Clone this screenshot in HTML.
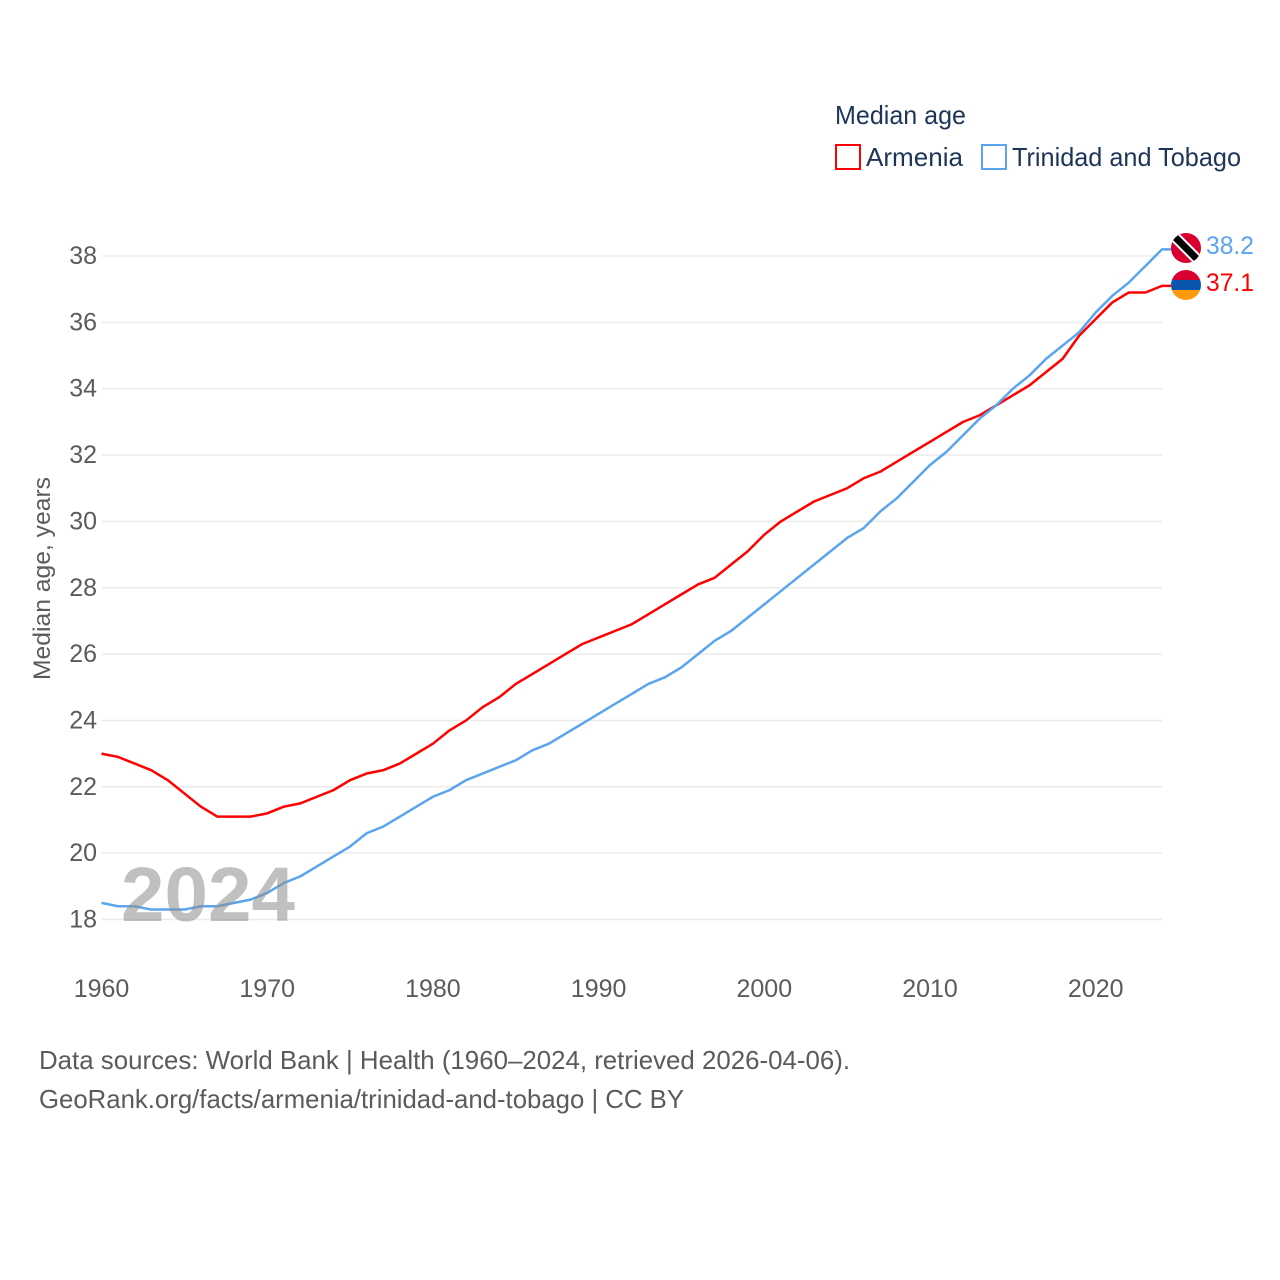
<!DOCTYPE html>
<html lang="en">
<head>
<meta charset="utf-8">
<title>Median age: Armenia and Trinidad and Tobago</title>
<style>
html,body{margin:0;padding:0;background:#fff;width:1280px;height:1280px;overflow:hidden}
svg{display:block;font-family:"Liberation Sans",sans-serif}
</style>
</head>
<body>
<svg id="chart" width="1280" height="1280" viewBox="0 0 1280 1280" xmlns="http://www.w3.org/2000/svg">
  <defs>
    <clipPath id="clip-tt"><circle cx="1186" cy="248" r="15"/></clipPath>
    <clipPath id="clip-am"><circle cx="1186" cy="285" r="15"/></clipPath>
  </defs>
  <rect x="0" y="0" width="1280" height="1280" fill="#fff"/>
  <g id="grid"></g>
  <g id="yticks"></g>
  <g id="xticks"></g>
  <text transform="translate(50,680) rotate(-90)" font-size="24" fill="#5b5b5b" textLength="203" lengthAdjust="spacingAndGlyphs">Median age, years</text>
  <g id="series"></g>
  <text x="121" y="921" font-size="77" font-weight="700" fill="#8f8f8f" fill-opacity="0.56" textLength="174" lengthAdjust="spacingAndGlyphs">2024</text>

  <text x="835" y="124" font-size="26" fill="#1d3557" textLength="131" lengthAdjust="spacingAndGlyphs">Median age</text>
  <g>
    <rect x="836" y="145" width="24" height="24" fill="#fff" stroke="#ff0000" stroke-width="2"/>
    <text x="866" y="166" font-size="26" fill="#1d3557" textLength="97" lengthAdjust="spacingAndGlyphs">Armenia</text>
  </g>
  <g>
    <rect x="982" y="145" width="24" height="24" fill="#fff" stroke="#5ba4ee" stroke-width="2"/>
    <text x="1012" y="166" font-size="26" fill="#1d3557" textLength="229" lengthAdjust="spacingAndGlyphs">Trinidad and Tobago</text>
  </g>

  <g clip-path="url(#clip-tt)">
    <rect x="1171" y="233" width="30" height="30" fill="#d9002f"/>
    <line x1="1171" y1="233" x2="1201" y2="263" stroke="#fff" stroke-width="11"/>
    <line x1="1171" y1="233" x2="1201" y2="263" stroke="#000" stroke-width="7"/>
  </g>
  <g clip-path="url(#clip-am)">
    <rect x="1171" y="270" width="30" height="10" fill="#d9002f"/>
    <rect x="1171" y="280" width="30" height="10" fill="#0a55b0"/>
    <rect x="1171" y="290" width="30" height="10" fill="#ff9a0e"/>
  </g>
  <text x="1206" y="254" font-size="25" fill="#5ba4ee" textLength="48" lengthAdjust="spacingAndGlyphs">38.2</text>
  <text x="1206" y="291" font-size="25" fill="#ff0000" textLength="48" lengthAdjust="spacingAndGlyphs">37.1</text>

  <text x="39" y="1069" font-size="26" fill="#5b5b5b" textLength="811" lengthAdjust="spacingAndGlyphs">Data sources: World Bank | Health (1960–2024, retrieved 2026-04-06).</text>
  <text x="39" y="1108" font-size="26" fill="#5b5b5b" textLength="645" lengthAdjust="spacingAndGlyphs">GeoRank.org/facts/armenia/trinidad-and-tobago | CC BY</text>
</svg>
<script>
var firstYear = 1960;
var yTicks = [18, 20, 22, 24, 26, 28, 30, 32, 34, 36, 38];
var xTicks = [1960, 1970, 1980, 1990, 2000, 2010, 2020];
var armenia = [23.0, 22.9, 22.7, 22.5, 22.2, 21.8, 21.4, 21.1, 21.1, 21.1, 21.2, 21.4, 21.5, 21.7, 21.9, 22.2, 22.4, 22.5, 22.7, 23.0, 23.3, 23.7, 24.0, 24.4, 24.7, 25.1, 25.4, 25.7, 26.0, 26.3, 26.5, 26.7, 26.9, 27.2, 27.5, 27.8, 28.1, 28.3, 28.7, 29.1, 29.6, 30.0, 30.3, 30.6, 30.8, 31.0, 31.3, 31.5, 31.8, 32.1, 32.4, 32.7, 33.0, 33.2, 33.5, 33.8, 34.1, 34.5, 34.9, 35.6, 36.1, 36.6, 36.9, 36.9, 37.1];
var trinidadTobago = [18.5, 18.4, 18.4, 18.3, 18.3, 18.3, 18.4, 18.4, 18.5, 18.6, 18.8, 19.1, 19.3, 19.6, 19.9, 20.2, 20.6, 20.8, 21.1, 21.4, 21.7, 21.9, 22.2, 22.4, 22.6, 22.8, 23.1, 23.3, 23.6, 23.9, 24.2, 24.5, 24.8, 25.1, 25.3, 25.6, 26.0, 26.4, 26.7, 27.1, 27.5, 27.9, 28.3, 28.7, 29.1, 29.5, 29.8, 30.3, 30.7, 31.2, 31.7, 32.1, 32.6, 33.1, 33.5, 34.0, 34.4, 34.9, 35.3, 35.7, 36.3, 36.8, 37.2, 37.7, 38.2];

var NS = 'http://www.w3.org/2000/svg';
function xScale(year) { return 101.5 + (year - 1960) * (1162 - 101.5) / 64; }
function yScale(v) { return 919.5 - (v - 18) * (919.5 - 256) / 20; }
function make(tag, parent) {
  var el = document.createElementNS(NS, tag);
  parent.appendChild(el);
  return el;
}
var gridG = document.getElementById('grid');
var yG = document.getElementById('yticks');
var xG = document.getElementById('xticks');
var seriesG = document.getElementById('series');

yTicks.forEach(function (t) {
  var line = make('line', gridG);
  
  
  line.setAttribute('x1', 102);
  line.setAttribute('x2', 1162);
  line.setAttribute('y1', yScale(t));
  line.setAttribute('y2', yScale(t));
  line.setAttribute('stroke', '#ebebeb');
  line.setAttribute('stroke-width', '1.5');
  var label = make('text', yG);
  
  
  label.setAttribute('x', 97);
  label.setAttribute('y', yScale(t) + 8);
  label.setAttribute('text-anchor', 'end');
  label.setAttribute('font-size', '25');
  label.setAttribute('fill', '#5b5b5b');
  label.textContent = t;
});

xTicks.forEach(function (t) {
  var label = make('text', xG);
  
  
  label.setAttribute('x', xScale(t));
  label.setAttribute('y', 997);
  label.setAttribute('text-anchor', 'middle');
  label.setAttribute('font-size', '25');
  label.setAttribute('fill', '#5b5b5b');
  label.textContent = t;
});

function drawSeries(values, color, name) {
  var pts = values.map(function (v, i) {
    return xScale(firstYear + i).toFixed(2) + ',' + yScale(v).toFixed(2);
  });
  var last = values[values.length - 1];
  pts.push('1171,' + yScale(last).toFixed(2));
  var line = make('polyline', seriesG);
  
  
  line.setAttribute('points', pts.join(' '));
  line.setAttribute('fill', 'none');
  line.setAttribute('stroke', color);
  line.setAttribute('stroke-width', '2.5');
  line.setAttribute('stroke-linejoin', 'round');
}
drawSeries(armenia, '#ff0000', 'line-armenia');
drawSeries(trinidadTobago, '#5ba4ee', 'line-trinidad-and-tobago');
</script>
</body>
</html>
